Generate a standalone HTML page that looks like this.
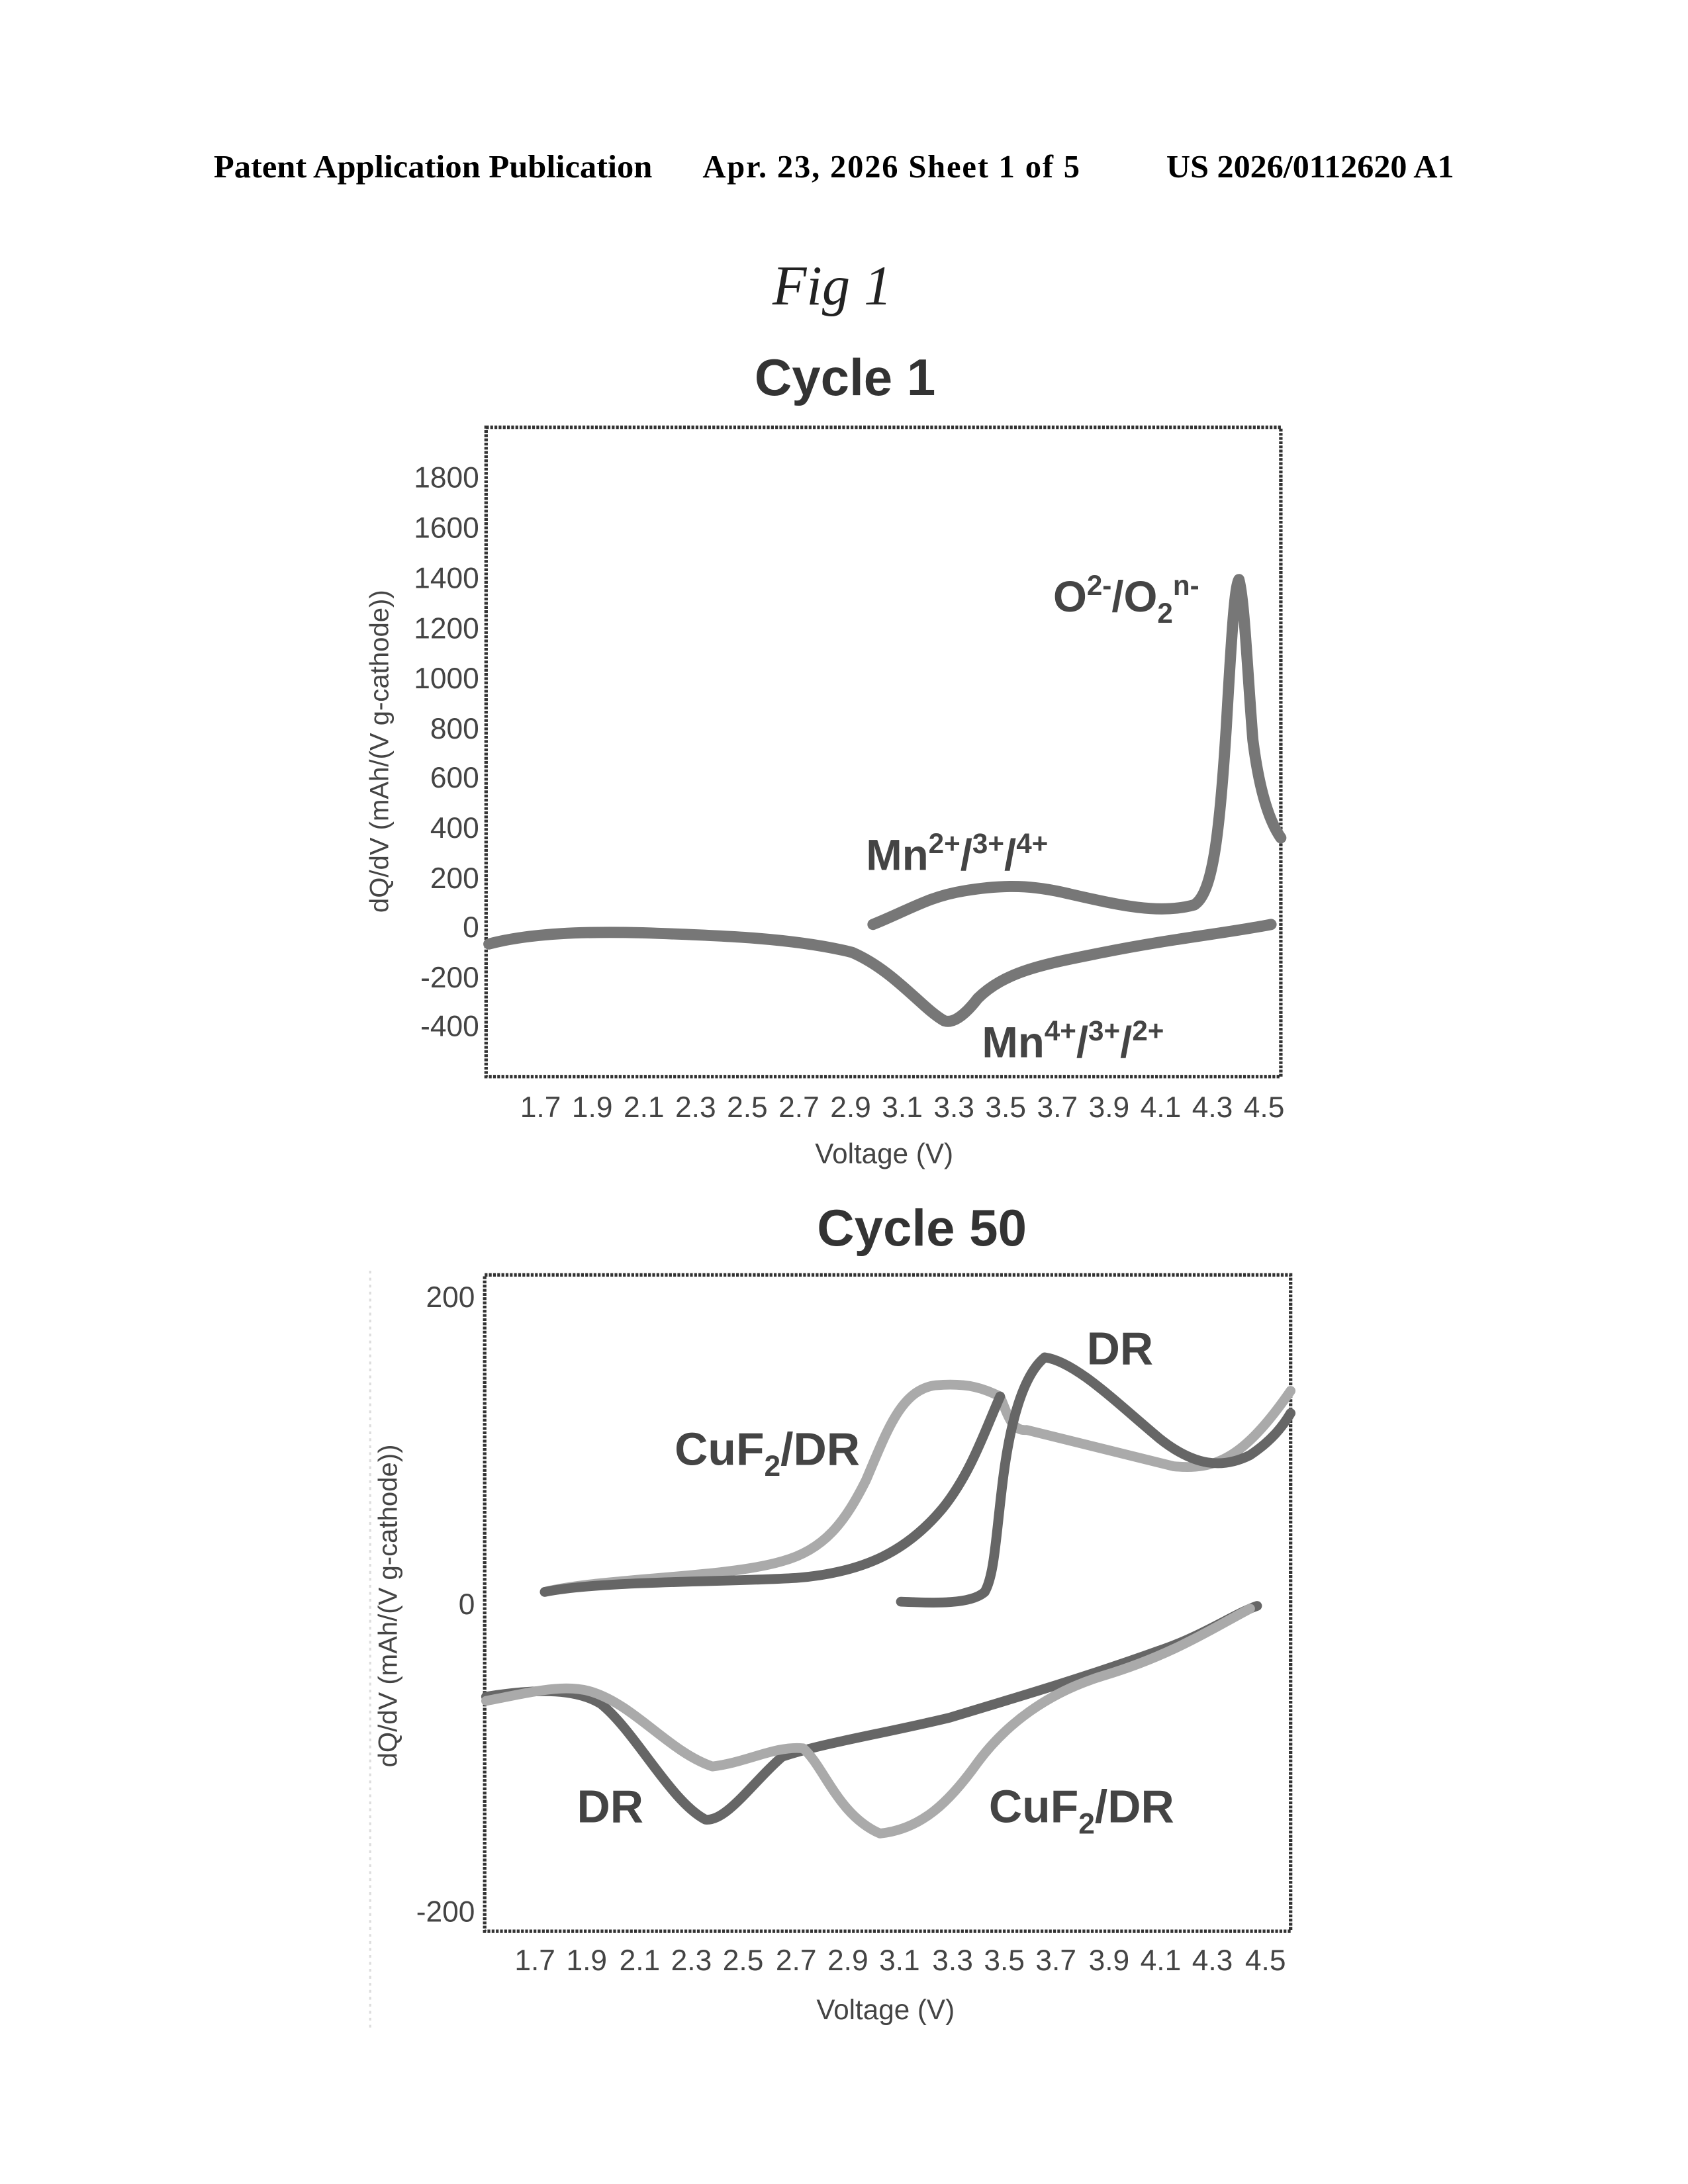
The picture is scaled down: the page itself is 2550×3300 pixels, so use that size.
<!DOCTYPE html>
<html><head><meta charset="utf-8"><style>html,body{margin:0;padding:0;background:#fff}svg{display:block}</style></head>
<body>
<svg width="2550" height="3300" viewBox="0 0 1208.5 1564" xmlns="http://www.w3.org/2000/svg">
<rect width="1208.5" height="1564" fill="#fff"/>
<g font-family="Liberation Serif, serif" font-weight="bold" font-size="23" fill="#000">
<text x="153" y="127" textLength="314" lengthAdjust="spacingAndGlyphs">Patent Application Publication</text>
<text x="503" y="127" textLength="270" lengthAdjust="spacing">Apr. 23, 2026  Sheet 1 of 5</text>
<text x="835" y="127" textLength="206" lengthAdjust="spacingAndGlyphs">US 2026/0112620 A1</text>
</g>
<text x="553" y="218" font-family="Liberation Serif, serif" font-style="italic" font-size="40" fill="#222">Fig 1</text>

<!-- Cycle 1 -->
<text x="605" y="283" text-anchor="middle" font-family="Liberation Sans, sans-serif" font-weight="bold" font-size="37" fill="#333">Cycle 1</text>
<rect x="348" y="306" width="569" height="465" fill="none" stroke="#333" stroke-width="2.5" stroke-dasharray="2 1"/>
<g font-family="Liberation Sans, sans-serif" font-size="21" fill="#444" text-anchor="end">
<text x="343" y="349">1800</text><text x="343" y="385">1600</text><text x="343" y="421">1400</text>
<text x="343" y="457">1200</text><text x="343" y="493">1000</text><text x="343" y="529">800</text>
<text x="343" y="564">600</text><text x="343" y="600">400</text><text x="343" y="636">200</text>
<text x="343" y="671">0</text><text x="343" y="707">-200</text><text x="343" y="742">-400</text>
</g>
<text transform="translate(278,538) rotate(-90)" text-anchor="middle" font-family="Liberation Sans, sans-serif" font-size="19" fill="#444">dQ/dV (mAh/(V g-cathode))</text>
<g font-family="Liberation Sans, sans-serif" font-size="21" fill="#444" text-anchor="middle">
<text x="387" y="800">1.7</text><text x="424" y="800">1.9</text><text x="461" y="800">2.1</text><text x="498" y="800">2.3</text><text x="535" y="800">2.5</text><text x="572" y="800">2.7</text><text x="609" y="800">2.9</text><text x="646" y="800">3.1</text><text x="683" y="800">3.3</text><text x="720" y="800">3.5</text><text x="757" y="800">3.7</text><text x="794" y="800">3.9</text><text x="831" y="800">4.1</text><text x="868" y="800">4.3</text><text x="905" y="800">4.5</text>
</g>
<text x="633" y="833" text-anchor="middle" font-family="Liberation Sans, sans-serif" font-size="20" fill="#444">Voltage (V)</text>
<g fill="none" stroke="#777" stroke-width="8" stroke-linecap="round" stroke-linejoin="round">
<path d="M625,662 C650,652 665,642 690,638 C720,633 740,634 765,640 C800,648 830,655 855,648 C868,640 873,600 878,520 C882,450 884,420 887,415 C891,430 893,480 897,530 C902,570 910,590 917,600"/>
<path d="M910,662 C880,668 840,672 790,682 C750,690 720,695 700,715 C690,728 682,733 676,731 C660,722 640,695 610,682 C570,672 520,670 460,668 C420,667 380,668 350,676"/>
</g>
<g font-family="Liberation Sans, sans-serif" font-weight="bold" fill="#444">
<text x="754" y="438" font-size="31">O<tspan font-size="20" dy="-12">2-</tspan><tspan dy="12">/O</tspan><tspan font-size="20" dy="8">2</tspan><tspan font-size="20" dy="-20">n-</tspan></text>
<text x="620" y="623" font-size="31">Mn<tspan font-size="20" dy="-12">2+</tspan><tspan dy="12">/</tspan><tspan font-size="20" dy="-12">3+</tspan><tspan dy="12">/</tspan><tspan font-size="20" dy="-12">4+</tspan></text>
<text x="703" y="757" font-size="31">Mn<tspan font-size="20" dy="-12">4+</tspan><tspan dy="12">/</tspan><tspan font-size="20" dy="-12">3+</tspan><tspan dy="12">/</tspan><tspan font-size="20" dy="-12">2+</tspan></text>
</g>

<!-- Cycle 50 -->
<text x="660" y="892" text-anchor="middle" font-family="Liberation Sans, sans-serif" font-weight="bold" font-size="37" fill="#333">Cycle 50</text>
<rect x="347" y="913" width="577" height="470" fill="none" stroke="#333" stroke-width="2.5" stroke-dasharray="2 1"/>
<line x1="265" y1="910" x2="265" y2="1455" stroke="#ddd" stroke-width="1.5" stroke-dasharray="2 3"/>
<g font-family="Liberation Sans, sans-serif" font-size="21" fill="#444" text-anchor="end">
<text x="340" y="936">200</text><text x="340" y="1156">0</text><text x="340" y="1376">-200</text>
</g>
<text transform="translate(284,1150) rotate(-90)" text-anchor="middle" font-family="Liberation Sans, sans-serif" font-size="19" fill="#444">dQ/dV (mAh/(V g-cathode))</text>
<g font-family="Liberation Sans, sans-serif" font-size="21" fill="#444" text-anchor="middle">
<text x="383" y="1411">1.7</text><text x="420" y="1411">1.9</text><text x="458" y="1411">2.1</text><text x="495" y="1411">2.3</text><text x="532" y="1411">2.5</text><text x="570" y="1411">2.7</text><text x="607" y="1411">2.9</text><text x="644" y="1411">3.1</text><text x="682" y="1411">3.3</text><text x="719" y="1411">3.5</text><text x="756" y="1411">3.7</text><text x="794" y="1411">3.9</text><text x="831" y="1411">4.1</text><text x="868" y="1411">4.3</text><text x="906" y="1411">4.5</text>
</g>
<text x="634" y="1446" text-anchor="middle" font-family="Liberation Sans, sans-serif" font-size="20" fill="#444">Voltage (V)</text>
<g fill="none" stroke-width="7" stroke-linecap="round" stroke-linejoin="round">
<path stroke="#aaa" d="M390,1140 C430,1130 520,1130 560,1118 C590,1110 605,1090 620,1060 C635,1025 645,995 670,992 C695,990 705,995 716,1000 C722,1015 725,1025 735,1024 C760,1030 800,1040 840,1050 C870,1053 890,1045 924,996"/>
<path stroke="#666" d="M390,1140 C430,1132 520,1133 570,1130 C620,1126 650,1110 675,1080 C695,1055 705,1025 716,1000"/>
<path stroke="#666" d="M645,1147 C670,1148 695,1149 705,1140 C712,1128 713,1100 718,1060 C723,1020 732,985 748,972 C770,975 800,1005 830,1030 C855,1050 875,1052 895,1042 C910,1032 918,1022 924,1012"/>
<path stroke="#666" d="M348,1215 C380,1210 410,1208 430,1220 C455,1240 480,1290 505,1303 C520,1305 540,1275 560,1258 C590,1248 630,1242 680,1230 C730,1215 780,1200 830,1182 C860,1172 885,1155 900,1150"/>
<path stroke="#aaa" d="M348,1218 C380,1212 405,1205 425,1212 C455,1222 480,1255 510,1265 C535,1262 555,1250 575,1252 C590,1265 600,1300 630,1313 C660,1310 680,1290 700,1262 C720,1235 750,1212 790,1200 C840,1185 870,1165 895,1152"/>
</g>
<g font-family="Liberation Sans, sans-serif" font-weight="bold" font-size="33" fill="#444">
<text x="778" y="977">DR</text>
<text x="483" y="1049">CuF<tspan font-size="21" dy="8">2</tspan><tspan dy="-8">/DR</tspan></text>
<text x="413" y="1305">DR</text>
<text x="708" y="1305">CuF<tspan font-size="21" dy="8">2</tspan><tspan dy="-8">/DR</tspan></text>
</g>
</svg>
</body></html>
